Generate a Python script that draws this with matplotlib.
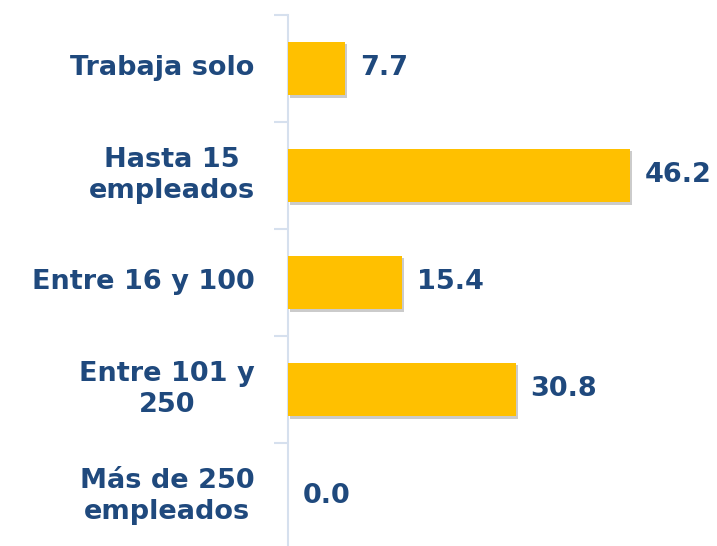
import matplotlib.pyplot as plt
import matplotlib.patheffects as pe
import numpy as np

categories = ["Trabaja solo", "Hasta 15\nempleados", "Entre 16 y 100", "Entre 101 y\n250", "Más de 250\nempleados"]
values = [7.7, 46.2, 15.4, 30.8, 0.0]

bar_color = "#FFC000"
text_color = "#1F497D"
axis_color = "#D6E0EE"

fig = plt.figure(figsize=(7.17, 5.46), dpi=100)
ax = fig.add_axes([0.4017, -0.0073, 0.5983, 0.98])

y = np.arange(len(categories))
bars = ax.barh(y, values, height=0.5, color=bar_color, zorder=3)
for b in bars:
    b.set_path_effects([pe.SimplePatchShadow(offset=(1.5, -2), shadow_rgbFace="#999999", alpha=0.5), pe.Normal()])

ax.set_ylim(len(categories) - 0.5, -0.5)
ax.set_xlim(0, 58)

for i, v in enumerate(values):
    ax.text(v + 2.0, i, f"{v:.1f}", va="center", ha="left", fontsize=19.5,
            fontweight="bold", color=text_color, family="DejaVu Sans")

for i, c in enumerate(categories):
    ax.text(-4.5, i, c, va="center", ha="right", multialignment="center", fontsize=19.5,
            fontweight="bold", color=text_color, family="DejaVu Sans", linespacing=1.28)

for s in ["top", "right", "bottom"]:
    ax.spines[s].set_visible(False)
ax.spines["left"].set_color(axis_color)
ax.spines["left"].set_linewidth(1.5)
ax.set_xticks([])
ax.set_yticks(np.arange(-0.5, len(categories), 1.0))
ax.set_yticklabels([])
ax.tick_params(axis="y", length=10, width=1.5, color=axis_color)

fig.savefig("out.png", dpi=100)
